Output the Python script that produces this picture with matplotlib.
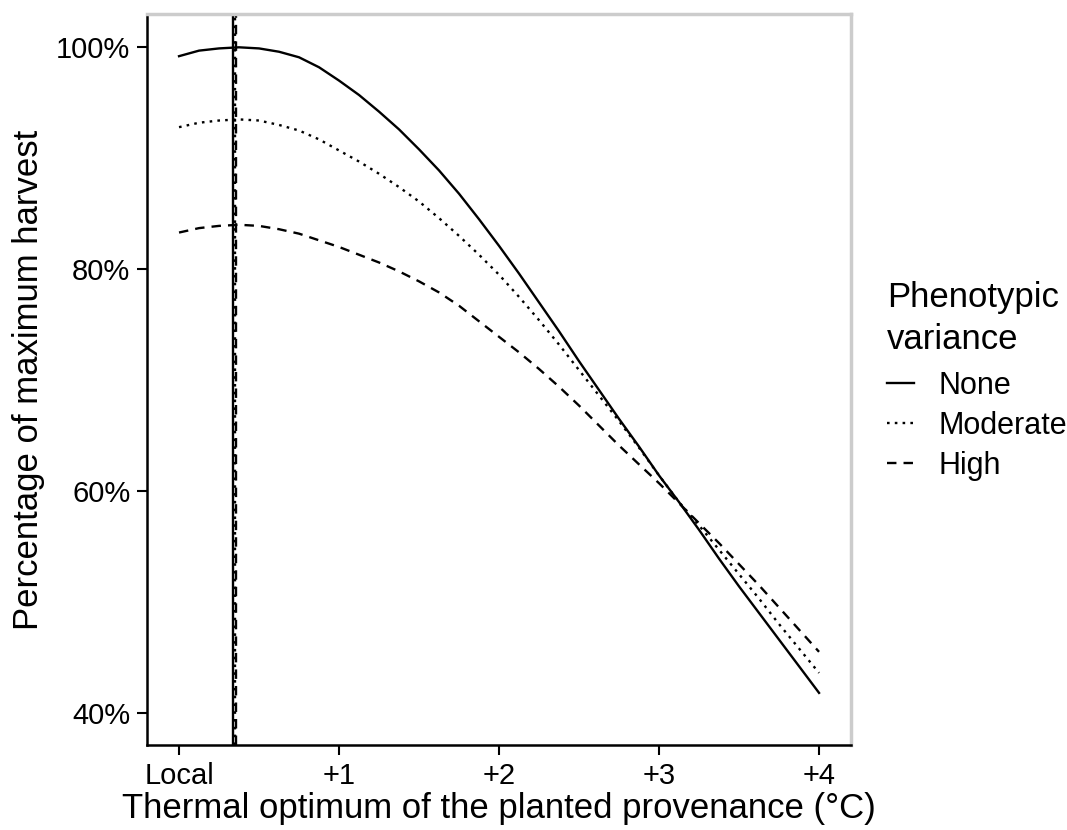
import numpy as np
import matplotlib
matplotlib.use("Agg")
import matplotlib.pyplot as plt

# -----------------------------
# DATA
# -----------------------------
provenance = [0.0, 0.125, 0.25, 0.375, 0.5, 0.625, 0.75, 0.875, 1.0,
              1.125, 1.25, 1.375, 1.5, 1.625, 1.75, 1.875, 2.0,
              2.125, 2.25, 2.375, 2.5, 2.625, 2.75, 2.875, 3.0,
              3.125, 3.25, 3.375, 3.5, 3.625, 3.75, 3.875, 4.0]

harvest_none = [0.992, 0.997, 0.999, 1.000, 0.999, 0.996, 0.991, 0.982, 0.970,
                0.957, 0.942, 0.926, 0.908, 0.889, 0.868, 0.845, 0.821,
                0.796, 0.770, 0.744, 0.717, 0.691, 0.665, 0.640, 0.614,
                0.590, 0.565, 0.539, 0.514, 0.490, 0.466, 0.442, 0.418]
harvest_moderate = [0.928, 0.932, 0.934, 0.935, 0.934, 0.930, 0.925, 0.917, 0.907,
                    0.897, 0.886, 0.874, 0.861, 0.846, 0.830, 0.813, 0.795,
                    0.775, 0.754, 0.732, 0.709, 0.686, 0.663, 0.639, 0.614,
                    0.590, 0.569, 0.547, 0.525, 0.503, 0.480, 0.458, 0.436]
harvest_high = [0.833, 0.837, 0.839, 0.840, 0.839, 0.836, 0.832, 0.826, 0.820,
                0.813, 0.806, 0.798, 0.789, 0.779, 0.767, 0.753, 0.739,
                0.725, 0.710, 0.694, 0.677, 0.659, 0.641, 0.624, 0.607,
                0.589, 0.571, 0.553, 0.534, 0.515, 0.495, 0.475, 0.455]

variance_labels = ["None", "Moderate", "High"]
optimum = [0.338, 0.347, 0.356]   # vertical lines, one per variance level

x_ticks = [0, 1, 2, 3, 4]
x_ticklabels = ["Local", "+1", "+2", "+3", "+4"]
y_ticks = [0.4, 0.6, 0.8, 1.0]
y_ticklabels = ["40%", "60%", "80%", "100%"]

# -----------------------------
# STYLE
# -----------------------------
plt.rcParams["font.family"] = ["Liberation Sans", "DejaVu Sans"]
styles = ["-", (0, (1.1, 2.2)), (0, (4, 3))]
series = [harvest_none, harvest_moderate, harvest_high]

fig = plt.figure(figsize=(10.67, 8.30), dpi=100)
ax = fig.add_axes([0.1378, 0.1024, 0.6598, 0.8807])

for y, ls, lab, xo in zip(series, styles, variance_labels, optimum):
    ax.plot(provenance, y, color="black", lw=1.7, ls=ls, label=lab)
    ax.axvline(xo, color="black", lw=1.7, ls=ls)

ax.set_xlim(-0.2, 4.2)
ax.set_ylim(0.371, 1.030)
ax.set_xticks(x_ticks)
ax.set_xticklabels(x_ticklabels)
ax.set_yticks(y_ticks)
ax.set_yticklabels(y_ticklabels)
ax.tick_params(labelsize=21, length=7, width=1.5, color="black",
               labelcolor="black", pad=5)

# panel border: grey box, black left/bottom axis lines
for side in ["top", "right"]:
    ax.spines[side].set_color("#cccccc")
    ax.spines[side].set_linewidth(2.5)
for side in ["left", "bottom"]:
    ax.spines[side].set_color("black")
    ax.spines[side].set_linewidth(1.8)

ax.set_xlabel("Thermal optimum of the planted provenance (°C)", fontsize=25, labelpad=2)
ax.set_ylabel("Percentage of maximum harvest", fontsize=25, labelpad=8)

leg = ax.legend(title="Phenotypic\nvariance", loc="upper left",
                bbox_to_anchor=(0.831, 0.662), bbox_transform=fig.transFigure,
                frameon=False, fontsize=22, title_fontsize=25,
                handlelength=0.9, handletextpad=0.8, labelspacing=0.33,
                borderaxespad=0, borderpad=0)
leg._legend_box.align = "left"
leg._legend_box.sep = 11
leg.get_title().set_linespacing(1.35)

fig.savefig("out.png", dpi=100)
